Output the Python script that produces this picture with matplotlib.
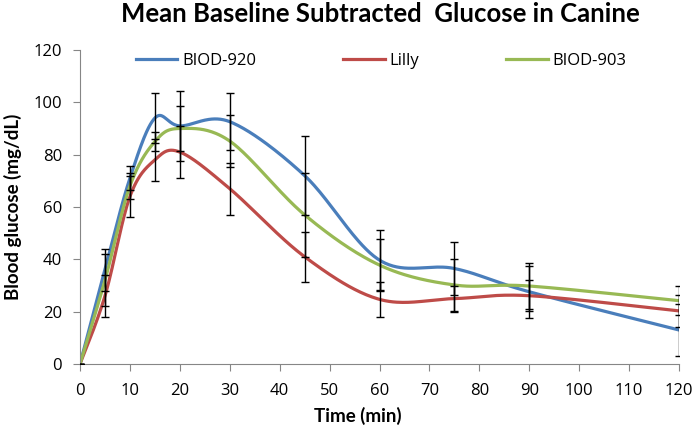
import numpy as np
import matplotlib
matplotlib.use("Agg")
import matplotlib.pyplot as plt
from matplotlib.lines import Line2D

# ---- data ----
time_min = [0, 5, 10, 15, 20, 30, 45, 60, 75, 90, 120]
biod920 = [0, 36, 71, 94, 91, 92.6, 72, 39.7, 36.5, 27.6, 13]
biod920_err = [0, 8, 4.5, 9.5, 13.5, 11, 15, 11.4, 10, 10, 10]
lilly = [0, 26, 64, 78, 81, 67, 41, 24.7, 25, 26.1, 20.3]
lilly_err = [0, 8, 8, 8, 10, 10, 9.5, 6.7, 5, 6, 6]
biod903 = [0, 32, 68, 85, 90, 85.2, 57, 37.8, 30.2, 29.8, 24.2]
biod903_err = [0, 10, 5, 3.5, 8.6, 10, 16, 10, 10, 8.8, 5.6]
series_names = ["BIOD-920", "Lilly", "BIOD-903"]
x_ticks = list(range(0, 121, 10))
y_ticks = list(range(0, 121, 20))

colors = ["#4A7EBB", "#BE4B48", "#98B954"]
AXIS_GRAY = "#868686"
TICK_FONT = ["Open Sans", "DejaVu Sans"]
BOLD_FONT = ["Lato", "DejaVu Sans"]
plt.rcParams["font.family"] = TICK_FONT


def excel_smooth(xs, ys, n=40):
    """Bezier smoothing similar to spreadsheet 'smoothed line'."""
    P = np.column_stack([xs, ys]).astype(float)
    m = len(P)
    out = []
    for i in range(m - 1):
        p0 = P[i - 1] if i > 0 else P[i]
        p1 = P[i]
        p2 = P[i + 1]
        p3 = P[i + 2] if i + 2 < m else P[i + 1]
        c1 = p1 + (p2 - p0) / 6.0
        c2 = p2 - (p3 - p1) / 6.0
        t = np.linspace(0, 1, n)[:, None]
        seg = ((1 - t) ** 3) * p1 + 3 * ((1 - t) ** 2) * t * c1 + 3 * (1 - t) * t ** 2 * c2 + t ** 3 * p2
        if i > 0:
            seg = seg[1:]
        out.append(seg)
    out = np.vstack(out)
    return out[:, 0], out[:, 1]


W, H = 699, 429
fig = plt.figure(figsize=(W / 100, H / 100), dpi=100)
ax_l, ax_r, ax_t, ax_b = 80, 679, 50, 364
ax = fig.add_axes([ax_l / W, 1 - ax_b / H, (ax_r - ax_l) / W, (ax_b - ax_t) / H])

all_series = [(biod920, biod920_err), (lilly, lilly_err), (biod903, biod903_err)]
for (vals, errs), c, name in zip(all_series, colors, series_names):
    sx, sy = excel_smooth(time_min, vals)
    ax.plot(sx, sy, color=c, lw=2.3, solid_capstyle="round", zorder=2, label=name)

for (vals, errs) in all_series:
    ax.errorbar(time_min, vals, yerr=errs, fmt="none", ecolor="black",
                elinewidth=1.0, capsize=3.2, capthick=1.0, zorder=3)

ax.set_xlim(0, 120)
ax.set_ylim(0, 120)
ax.set_xticks(x_ticks)
ax.set_yticks(y_ticks)
ax.tick_params(axis="both", direction="out", length=5, width=0.8, color=AXIS_GRAY,
               labelsize=12, labelcolor="black")
ax.tick_params(axis="y", pad=8)
ax.tick_params(axis="x", pad=9)
for s in ["top", "right"]:
    ax.spines[s].set_visible(False)
for s in ["left", "bottom"]:
    ax.spines[s].set_color(AXIS_GRAY)
    ax.spines[s].set_linewidth(0.8)

pw, ph = ax_r - ax_l, ax_b - ax_t
ax.set_xlabel("Time (min)", fontsize=13.5, fontweight="bold", family=BOLD_FONT)
ax.xaxis.set_label_coords((358 - ax_l) / pw, (ax_b - 416) / ph)
ax.xaxis.label.set_va("center")
ax.set_ylabel("Blood glucose (mg/dL)", fontsize=13.5, fontweight="bold", family=BOLD_FONT)
ax.yaxis.set_label_coords((12.5 - ax_l) / pw, 0.5)
ax.yaxis.label.set_va("center")

fig.text(380 / W, 1 - 14 / H, "Mean Baseline Subtracted  Glucose in Canine", ha="center", va="center",
         fontsize=18.5, fontweight="bold", family=BOLD_FONT)

handles = [Line2D([0], [0], color=c, lw=2.3) for c in colors]
leg = ax.legend(handles, series_names, ncol=3, loc="center left",
                bbox_to_anchor=((135.5 - ax_l) / pw, (ax_b - 61) / ph),
                frameon=False, fontsize=12, handlelength=2.5, handletextpad=0.3,
                columnspacing=5.2, borderpad=0, borderaxespad=0)

fig.savefig("out.png", dpi=100)
